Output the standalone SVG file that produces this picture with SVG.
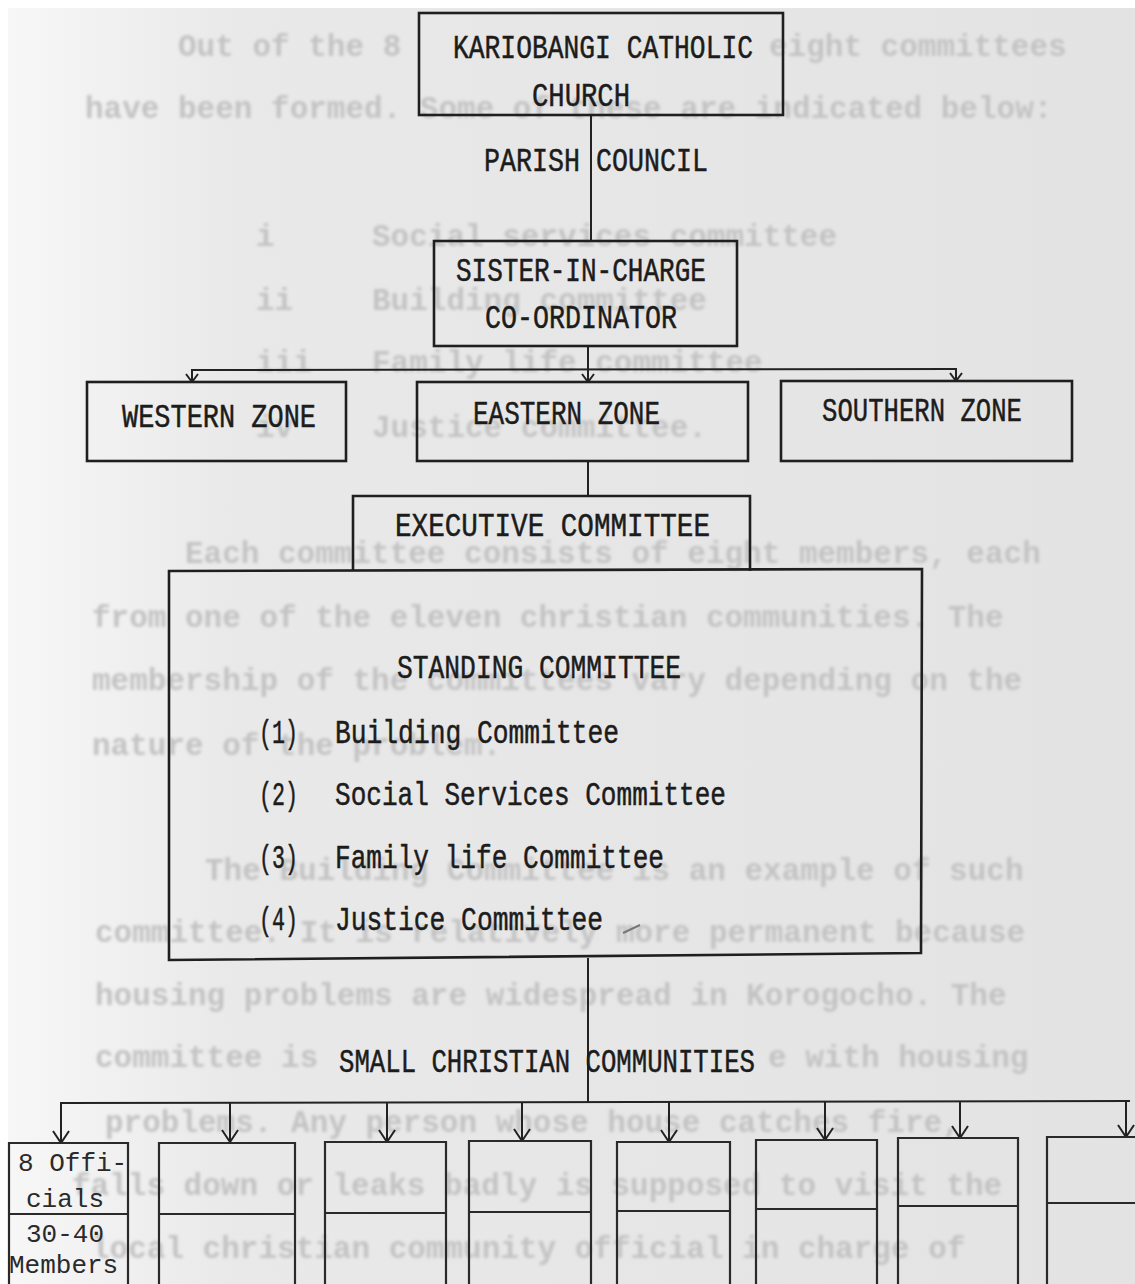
<svg xmlns="http://www.w3.org/2000/svg" width="1135" height="1284" viewBox="0 0 1135 1284">
<defs>
<linearGradient id="paper" x1="0" y1="0" x2="1" y2="0">
<stop offset="0" stop-color="#f7f7f7"/>
<stop offset="0.2" stop-color="#e9e9e9"/>
<stop offset="1" stop-color="#e3e3e3"/>
</linearGradient>
<filter id="blur" x="-5%" y="-50%" width="110%" height="200%"><feGaussianBlur stdDeviation="1.5"/></filter>
<marker id="v" viewBox="0 0 14 18" refX="13" refY="9" markerWidth="14" markerHeight="18" markerUnits="userSpaceOnUse" orient="auto">
<path d="M1,1 L13,9 L1,17" fill="none" stroke="#222" stroke-width="2"/>
</marker>
<marker id="vs" viewBox="0 0 10 14" refX="9" refY="7" markerWidth="10" markerHeight="14" markerUnits="userSpaceOnUse" orient="auto">
<path d="M1,1 L9,7 L1,13" fill="none" stroke="#222" stroke-width="2"/>
</marker>
<style>
.box{fill:none;stroke:#1f1f1f;stroke-width:2.6}
.thin{fill:none;stroke:#2a2a2a;stroke-width:2.2}
.con{fill:none;stroke:#222;stroke-width:2}
.t{font-family:"Liberation Mono","Courier New",monospace;font-size:33px;fill:#1c1c1c;stroke:#1c1c1c;stroke-width:0.5}
.s{font-family:"Liberation Mono","Courier New",monospace;font-size:26px;fill:#2a2a2a}
.bg{font-family:"Liberation Mono","Courier New",monospace;font-size:31px;fill:#c3c3c3;font-weight:bold}
</style>
</defs>

<rect width="1135" height="1284" fill="#ffffff"/>
<rect x="8" y="8" width="1127" height="1276" fill="url(#paper)"/>

<g id="bleed-through" filter="url(#blur)">
<text class="bg" x="178" y="56">Out of the 8</text>
<text class="bg" x="769" y="56">eight committees</text>
<text class="bg" x="85" y="118">have been formed.  Some of these are indicated below:</text>
<text class="bg" x="256" y="246">i</text>
<text class="bg" x="372" y="246">Social services committee</text>
<text class="bg" x="256" y="310">ii</text>
<text class="bg" x="372" y="310">Building committee</text>
<text class="bg" x="256" y="372">iii</text>
<text class="bg" x="372" y="372">Family life committee</text>
<text class="bg" x="256" y="437">iv</text>
<text class="bg" x="372" y="437">Justice committee.</text>
<text class="bg" x="185" y="563">Each committee consists of eight members, each</text>
<text class="bg" x="92" y="627">from one of the eleven christian communities.  The</text>
<text class="bg" x="92" y="690">membership of the committees vary depending on the</text>
<text class="bg" x="92" y="755">nature of the problem.</text>
<text class="bg" x="205" y="880">The Building Committee is an example of such</text>
<text class="bg" x="95" y="942">committee. It is relatively more permanent because</text>
<text class="bg" x="95" y="1005">housing problems are widespread in Korogocho.  The</text>
<text class="bg" x="95" y="1067">committee is</text>
<text class="bg" x="768" y="1067">e with housing</text>
<text class="bg" x="105" y="1132">problems.  Any person whose house catches fire,</text>
<text class="bg" x="72" y="1195">falls down or leaks badly is supposed to visit the</text>
<text class="bg" x="91" y="1258">local christian community official in charge of</text>
</g>

<g id="connectors">
<line class="con" x1="591" y1="115" x2="591" y2="241"/>
<text class="t" x="484" y="171" textLength="224" lengthAdjust="spacingAndGlyphs">PARISH COUNCIL</text>
<line class="con" x1="588" y1="346" x2="588" y2="370"/>
<line class="con" x1="191" y1="370" x2="957" y2="369"/>
<line class="con" x1="192" y1="370" x2="192" y2="382" marker-end="url(#vs)"/>
<line class="con" x1="588" y1="370" x2="588" y2="382" marker-end="url(#vs)"/>
<line class="con" x1="956" y1="369" x2="956" y2="381" marker-end="url(#vs)"/>
<line class="con" x1="588" y1="461" x2="588" y2="496"/>
<line class="con" x1="588" y1="958" x2="588" y2="1103"/>
<line class="con" x1="60" y1="1103" x2="1130" y2="1101"/>
<line class="con" x1="61" y1="1103" x2="61" y2="1143" marker-end="url(#v)"/>
<line class="con" x1="230" y1="1103" x2="230" y2="1142" marker-end="url(#v)"/>
<line class="con" x1="387" y1="1103" x2="387" y2="1142" marker-end="url(#v)"/>
<line class="con" x1="522" y1="1102" x2="522" y2="1141" marker-end="url(#v)"/>
<line class="con" x1="669" y1="1102" x2="669" y2="1142" marker-end="url(#v)"/>
<line class="con" x1="825" y1="1102" x2="825" y2="1140" marker-end="url(#v)"/>
<line class="con" x1="960" y1="1102" x2="960" y2="1138" marker-end="url(#v)"/>
<line class="con" x1="1126" y1="1101" x2="1126" y2="1137" marker-end="url(#v)"/>
</g>

<g id="n-church">
<rect class="box" x="419" y="13" width="364" height="102"/>
<text class="t" x="453" y="58" textLength="300" lengthAdjust="spacingAndGlyphs">KARIOBANGI CATHOLIC</text>
<text class="t" x="532" y="106" textLength="98" lengthAdjust="spacingAndGlyphs">CHURCH</text>
</g>

<g id="n-sister">
<rect class="box" x="434" y="241" width="303" height="105"/>
<text class="t" x="456" y="281" textLength="250" lengthAdjust="spacingAndGlyphs">SISTER-IN-CHARGE</text>
<text class="t" x="485" y="328" textLength="192" lengthAdjust="spacingAndGlyphs">CO-ORDINATOR</text>
</g>

<g id="n-western">
<rect class="box" x="87" y="382" width="259" height="79"/>
<text class="t" x="122" y="427" textLength="194" lengthAdjust="spacingAndGlyphs">WESTERN ZONE</text>
</g>

<g id="n-eastern">
<rect class="box" x="417" y="382" width="331" height="79"/>
<text class="t" x="473" y="424" textLength="187" lengthAdjust="spacingAndGlyphs">EASTERN ZONE</text>
</g>

<g id="n-southern">
<rect class="box" x="781" y="381" width="291" height="80"/>
<text class="t" x="822" y="421" textLength="200" lengthAdjust="spacingAndGlyphs">SOUTHERN ZONE</text>
</g>

<g id="n-executive">
<path class="box" d="M353,571 V496 H750 V571"/>
<text class="t" x="395" y="536" textLength="315" lengthAdjust="spacingAndGlyphs">EXECUTIVE  COMMITTEE</text>
</g>

<g id="n-standing">
<path class="box" d="M169,571 L922,569 L921,953 L169,960 Z"/>
<text class="t" x="397" y="678" textLength="284" lengthAdjust="spacingAndGlyphs">STANDING COMMITTEE</text>
<text class="t" x="259" y="743" textLength="39" lengthAdjust="spacingAndGlyphs">(1)</text>
<text class="t" x="335" y="743" textLength="284" lengthAdjust="spacingAndGlyphs">Building Committee</text>
<text class="t" x="259" y="805" textLength="39" lengthAdjust="spacingAndGlyphs">(2)</text>
<text class="t" x="335" y="805" textLength="391" lengthAdjust="spacingAndGlyphs">Social Services Committee</text>
<text class="t" x="259" y="868" textLength="39" lengthAdjust="spacingAndGlyphs">(3)</text>
<text class="t" x="335" y="868" textLength="329" lengthAdjust="spacingAndGlyphs">Family life Committee</text>
<text class="t" x="259" y="930" textLength="39" lengthAdjust="spacingAndGlyphs">(4)</text>
<text class="t" x="335" y="930" textLength="268" lengthAdjust="spacingAndGlyphs">Justice Committee</text>
<path d="M623,933 L640,925" stroke="#777" stroke-width="2" fill="none"/>
</g>

<g id="n-scc">
<text class="t" x="339" y="1072" textLength="416" lengthAdjust="spacingAndGlyphs">SMALL CHRISTIAN COMMUNITIES</text>
</g>

<g id="n-community-1">
<path class="thin" d="M9,1290 V1143 H128 V1290"/>
<line class="thin" x1="9" y1="1214" x2="128" y2="1214"/>
<text class="s" x="18" y="1171">8 Offi-</text>
<text class="s" x="26" y="1207">cials</text>
<text class="s" x="26" y="1242">30-40</text>
<text class="s" x="9" y="1273">Members</text>
</g>
<g id="n-community-2">
<path class="thin" d="M159,1290 V1143 H295 V1290"/>
<line class="thin" x1="159" y1="1214" x2="295" y2="1214"/>
</g>
<g id="n-community-3">
<path class="thin" d="M325,1290 V1142 H446 V1290"/>
<line class="thin" x1="325" y1="1213" x2="446" y2="1213"/>
</g>
<g id="n-community-4">
<path class="thin" d="M469,1290 V1141 H591 V1290"/>
<line class="thin" x1="469" y1="1212" x2="591" y2="1212"/>
</g>
<g id="n-community-5">
<path class="thin" d="M617,1290 V1142 H730 V1290"/>
<line class="thin" x1="617" y1="1211" x2="730" y2="1211"/>
</g>
<g id="n-community-6">
<path class="thin" d="M756,1290 V1140 H877 V1290"/>
<line class="thin" x1="756" y1="1209" x2="877" y2="1209"/>
</g>
<g id="n-community-7">
<path class="thin" d="M898,1290 V1138 H1018 V1290"/>
<line class="thin" x1="898" y1="1206" x2="1018" y2="1206"/>
</g>
<g id="n-community-8">
<path class="thin" d="M1047,1290 V1137 H1140"/>
<line class="thin" x1="1047" y1="1203" x2="1140" y2="1203"/>
</g>
</svg>
